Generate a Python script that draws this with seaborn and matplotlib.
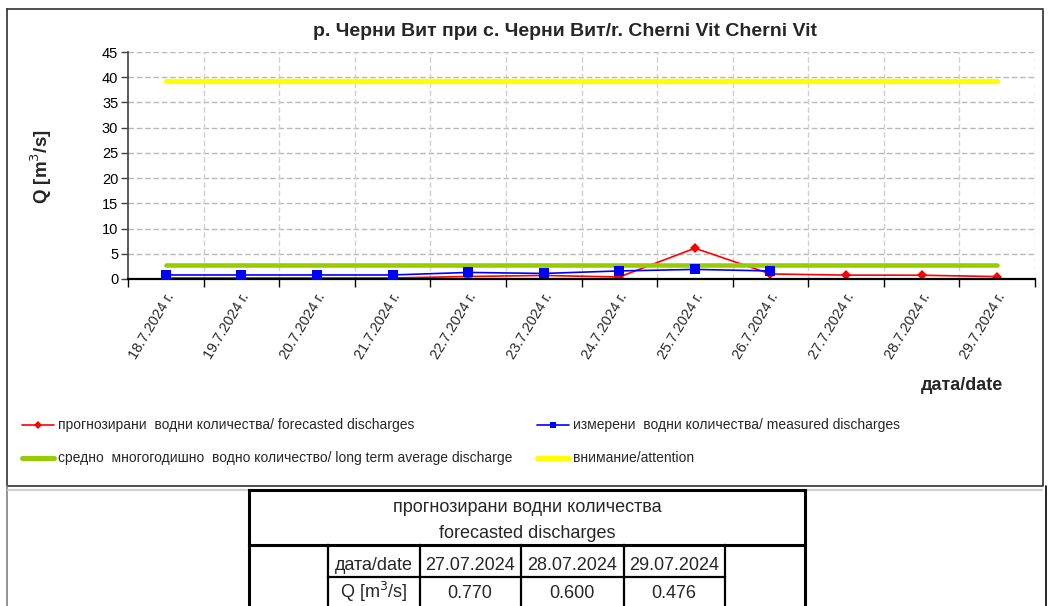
import matplotlib
matplotlib.use("Agg")
import matplotlib.pyplot as plt
import matplotlib.transforms as mtransforms
from matplotlib.lines import Line2D
import numpy as np
import pandas as pd
import seaborn as sns

# ---------------- data ----------------
dates = ["18.7.2024 г.", "19.7.2024 г.", "20.7.2024 г.", "21.7.2024 г.",
         "22.7.2024 г.", "23.7.2024 г.", "24.7.2024 г.", "25.7.2024 г.",
         "26.7.2024 г.", "27.7.2024 г.", "28.7.2024 г.", "29.7.2024 г."]
forecasted = [0.2, 0.2, 0.2, 0.2, 0.5, 0.7, 0.4, 6.1, 1.0, 0.77, 0.75, 0.476]
measured = [0.8, 0.8, 0.8, 0.8, 1.3, 1.1, 1.6, 1.9, 1.6, np.nan, np.nan, np.nan]
long_term_avg = 2.75
attention = 39.2

title = "р. Черни Вит при с. Черни Вит/r. Cherni Vit Cherni Vit"
legend_labels = ["прогнозирани  водни количества/ forecasted discharges",
                 "измерени  водни количества/ measured discharges",
                 "средно  многогодишно  водно количество/ long term average discharge",
                 "внимание/attention"]
table_title = ["прогнозирани водни количества", "forecasted discharges"]
table_dates = ["27.07.2024", "28.07.2024", "29.07.2024"]
table_values = ["0.770", "0.600", "0.476"]

# ---------------- setup ----------------
sns.set_theme(style="white")
plt.rcParams['font.family'] = ['Liberation Sans', 'DejaVu Sans']

W, H = 1048, 606
fig = plt.figure(figsize=(W / 100, H / 100), dpi=100)


def fx(x):
    return x / W


def fy(y):
    return 1 - y / H


ax = fig.add_axes([fx(128), fy(279), fx(1035) - fx(128), fy(52) - fy(279)])

df = pd.DataFrame({"x": np.arange(len(dates)), "forecasted": forecasted,
                   "measured": measured,
                   "avg": [long_term_avg] * len(dates),
                   "att": [attention] * len(dates)})

sns.lineplot(data=df, x="x", y="att", ax=ax, color="#ffff00", lw=3.8,
             solid_capstyle="round", zorder=2)
sns.lineplot(data=df, x="x", y="forecasted", ax=ax, color="#ff0000", lw=1.2,
             marker="D", markersize=5.5, markeredgewidth=0, zorder=2.5)
sns.lineplot(data=df, x="x", y="avg", ax=ax, color="#99cc00", lw=3.3,
             solid_capstyle="round", zorder=3)
sns.lineplot(data=df, x="x", y="measured", ax=ax, color="#0000ff", lw=1.2,
             marker="s", markersize=6.8, markeredgewidth=0, zorder=4)

ax.set_xlim(-0.5, len(dates) - 0.5)
ax.set_ylim(0, 45)
ax.set_yticks(np.arange(0, 46, 5))

# category labels (rotated), placed below each category centre
ax.set_xticks(np.arange(-0.5, len(dates), 1.0))
ax.set_xticklabels([])
ax.tick_params(axis="x", length=6, width=1, color="black",
               direction="out", bottom=True)
offset = mtransforms.ScaledTranslation(5 / 100, -15 / 100, fig.dpi_scale_trans)
for i, lab in enumerate(dates):
    ax.text(i, 0, lab, transform=ax.get_xaxis_transform() + offset,
            rotation=59, ha="right", va="center", rotation_mode="anchor",
            fontsize=10.3, clip_on=False)

ax.tick_params(axis="y", length=5, width=1, color="#404040", direction="out",
               left=True, labelsize=10.5, pad=2, labelcolor="black")

ax.set_xlabel("")
ax.set_ylabel("")
for y in np.arange(5, 46, 5):
    ax.axhline(y, color="#b8b8b8", lw=1, ls=(0, (4, 2)), zorder=0)
for x in np.arange(0.5, len(dates), 1.0):
    ax.axvline(x, color="#d0d0d0", lw=1, ls=(0, (4, 2)), zorder=0)

for s in ["top", "right"]:
    ax.spines[s].set_visible(False)
ax.spines["left"].set_color("#404040")
ax.spines["left"].set_linewidth(1.2)
ax.spines["bottom"].set_color("black")
ax.spines["bottom"].set_linewidth(1.6)
ax.patch.set_alpha(0)

# texts
fig.text(fx(565), fy(31), title, ha="center", va="center", fontsize=14,
         fontweight="bold")
fig.text(fx(41), fy(167), "Q [m$^3$/s]", rotation=90, ha="center", va="center",
         fontsize=13.5, fontweight="bold")
fig.text(fx(1003), fy(386), "дата/date", ha="right", va="center",
         fontsize=13, fontweight="bold")

# legend (manual)
legend_specs = [
    (22, 425, "#ff0000", 1.2, "D", legend_labels[0]),
    (537, 425, "#0000ff", 1.2, "s", legend_labels[1]),
    (22, 458, "#99cc00", 3.6, None, legend_labels[2]),
    (537, 458, "#ffff00", 3.6, None, legend_labels[3]),
]
for x0, y0, col, lw, mk, lab in legend_specs:
    fig.add_artist(Line2D([fx(x0), fx(x0 + 32)], [fy(y0), fy(y0)], color=col,
                          lw=lw, solid_capstyle="round",
                          transform=fig.transFigure))
    if mk:
        fig.add_artist(Line2D([fx(x0 + 16)], [fy(y0)], color=col, marker=mk,
                              markersize=4, markeredgewidth=0,
                              transform=fig.transFigure))
    fig.text(fx(x0 + 36), fy(y0), lab, ha="left", va="center", fontsize=10)

# chart border
def fline(xs, ys, **kw):
    fig.add_artist(Line2D([fx(v) for v in xs], [fy(v) for v in ys],
                          transform=fig.transFigure, **kw))

fline([7, 1043, 1043, 7, 7], [9, 9, 486, 486, 9], color="#404040", lw=1.3)
fline([7, 7], [486, 606], color="#808080", lw=1.2)
fline([1046, 1046], [486, 606], color="black", lw=1.2)
fline([8, 247], [489.5, 489.5], color="#d0d0d0", lw=1.6)
fline([806, 1042], [489.5, 489.5], color="#d0d0d0", lw=1.6)

# table
thick = dict(color="black", lw=2.2, solid_capstyle="projecting")
thin = dict(color="black", lw=1.6, solid_capstyle="projecting")
fline([249, 805], [490, 490], **thick)
fline([249, 249], [490, 606], **thick)
fline([805, 805], [490, 606], **thick)
fline([249, 805], [545, 545], **thick)
fline([328, 725], [577, 577], **thin)
for xv in [328, 420, 521, 624, 725]:
    fline([xv, xv], [545, 606], **thin)

tfs = 13
fig.text(fx(527), fy(508), table_title[0], ha="center", va="center", fontsize=tfs)
fig.text(fx(527), fy(533), table_title[1], ha="center", va="center", fontsize=tfs)
fig.text(fx(374), fy(565), "дата/date", ha="center", va="center", fontsize=tfs)
fig.text(fx(374), fy(592), "Q [m$^3$/s]", ha="center", va="center", fontsize=tfs)
col_centers = [470, 572, 674]
for cx, d, v in zip(col_centers, table_dates, table_values):
    fig.text(fx(cx), fy(565), d, ha="center", va="center", fontsize=tfs)
    fig.text(fx(cx), fy(594), v, ha="center", va="center", fontsize=tfs)

fig.savefig("out.png", dpi=100)
